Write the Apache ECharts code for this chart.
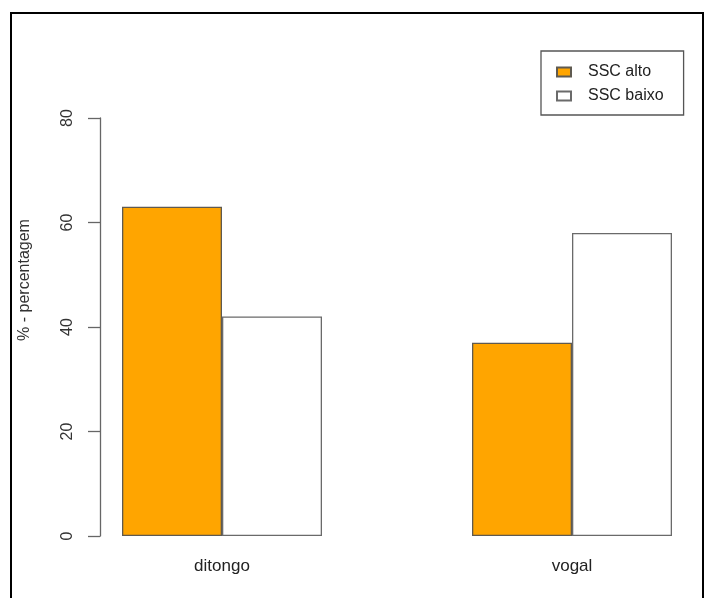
<!DOCTYPE html>
<html>
<head>
<meta charset="utf-8">
<script src="https://cdn.jsdelivr.net/npm/echarts@6/dist/echarts.min.js"></script>
<style>
html,body{margin:0;padding:0;background:#fff;}
#chart{width:715px;height:598px;}
</style>
</head>
<body>
<div id="chart"></div>
<script>
const categories = ['ditongo', 'vogal'];
const sscAlto = [63, 37];
const sscBaixo = [42, 58];
const yTicks = [0, 20, 40, 60, 80];
const seriesNames = ['SSC alto', 'SSC baixo'];
const yTitle = '% - percentagem';

const FONT = '"Liberation Sans", Arial, sans-serif';
const chart = echarts.init(document.getElementById('chart'), null, {renderer: 'canvas'});
const yMin = yTicks[0], yMax = yTicks[yTicks.length - 1];

chart.setOption({
  animation: false,
  backgroundColor: '#ffffff',
  grid: [
    {left: 47, width: 700, top: 118, bottom: 62, outerBoundsMode: 'none', containLabel: false},
    {left: 100, width: 1, top: 118, bottom: 62, outerBoundsMode: 'none', containLabel: false}
  ],
  xAxis: [
    {
      type: 'category', gridIndex: 0, data: categories,
      axisLine: {show: false}, axisTick: {show: false},
      axisLabel: {margin: 22, fontFamily: FONT, fontSize: 17, color: '#222'}
    },
    {type: 'value', gridIndex: 1, show: false}
  ],
  yAxis: [
    {type: 'value', gridIndex: 0, min: yMin, max: yMax, show: false},
    {
      type: 'value', gridIndex: 1, min: yMin, max: yMax, interval: 20,
      axisLine: {show: true, lineStyle: {color: '#666', width: 1.3}},
      axisTick: {show: true, length: 12, lineStyle: {color: '#666', width: 1.3}},
      splitLine: {show: false},
      axisLabel: {rotate: 90, margin: 24, fontFamily: FONT, fontSize: 16, color: '#333'}
    }
  ],
  legend: {
    left: 541, top: 51, orient: 'vertical',
    data: seriesNames,
    itemWidth: 14, itemHeight: 9, itemGap: 8,
    padding: [13, 20, 11, 15],
    borderColor: '#555', borderWidth: 1.3,
    icon: 'rect',
    textStyle: {fontFamily: FONT, fontSize: 16, color: '#222', lineHeight: 16, padding: [0, 0, 0, 12]}
  },
  series: [
    {
      name: seriesNames[0], type: 'bar', xAxisIndex: 0, yAxisIndex: 0,
      data: sscAlto, barWidth: 100, barGap: '0%',
      itemStyle: {color: '#FFA500', borderColor: '#5f5a50', borderWidth: 1.3}
    },
    {
      name: seriesNames[1], type: 'bar', xAxisIndex: 0, yAxisIndex: 0,
      data: sscBaixo, barWidth: 100, barGap: '0%',
      itemStyle: {color: '#ffffff', borderColor: '#6a6a6a', borderWidth: 1.3}
    }
  ],
  graphic: [
    {
      type: 'text', rotation: Math.PI / 2, x: 25, y: 280,
      style: {text: yTitle, font: '16px ' + FONT, fill: '#333', align: 'center', verticalAlign: 'middle'}
    },
    {
      type: 'polyline',
      shape: {points: [[11, 598], [11, 13], [703, 13], [703, 598]]},
      style: {stroke: '#000', lineWidth: 2, fill: null}
    }
  ]
});
</script>
</body>
</html>
